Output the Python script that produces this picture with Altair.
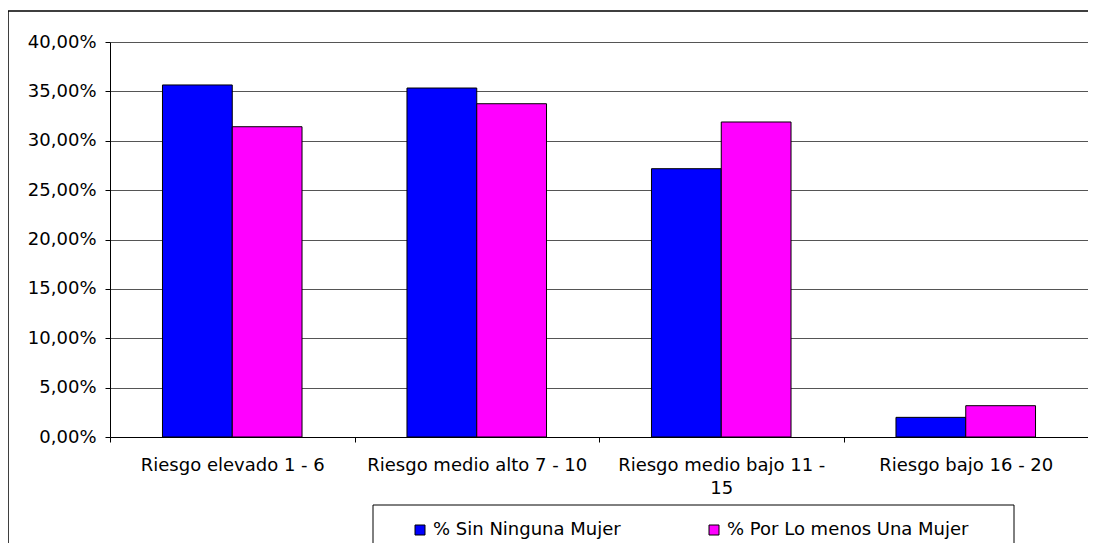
import altair as alt
import pandas as pd

categories = ["Riesgo elevado 1 - 6", "Riesgo medio alto 7 - 10",
              "Riesgo medio bajo 11 - 15", "Riesgo bajo 16 - 20"]
series = ["% Sin Ninguna Mujer", "% Por Lo menos Una Mujer"]
sin_ninguna = [0.3565, 0.3534, 0.2717, 0.0199]
por_lo_menos = [0.3142, 0.3375, 0.3190, 0.0317]
colors = ["#0000FF", "#FF00FF"]
y_ticks = [0.0, 0.05, 0.10, 0.15, 0.20, 0.25, 0.30, 0.35, 0.40]

rows = []
for c, a, b in zip(categories, sin_ninguna, por_lo_menos):
    rows.append({"cat": c, "serie": series[0], "val": a})
    rows.append({"cat": c, "serie": series[1], "val": b})
df = pd.DataFrame(rows)
one = pd.DataFrame({"k": [0]})

FONT = "DejaVu Sans"
FS = 18
W, H = 978, 395

frame = alt.Chart(one).mark_rect(fillOpacity=0, stroke="black", strokeWidth=1.5).encode(
    x=alt.value(-102), x2=alt.value(2000), y=alt.value(-31), y2=alt.value(1000)
)

bars = alt.Chart(df).mark_bar(stroke="black", strokeWidth=1).encode(
    x=alt.X("cat:N", sort=categories,
            scale=alt.Scale(paddingInner=0, paddingOuter=0),
            axis=alt.Axis(title=None, labelAngle=0, tickBand="extent", grid=False,
                          domainColor="black", tickColor="black", tickSize=5,
                          labelPadding=14, labelFont=FONT, labelFontSize=FS,
                          labelColor="black", labelLineHeight=23, labelLimit=300,
                          labelExpr="length(datum.label) > 24 ? [slice(datum.label, 0, 22), slice(datum.label, 23)] : datum.label")),
    xOffset=alt.XOffset("serie:N", sort=series,
                        scale=alt.Scale(paddingInner=0, paddingOuter=0.752)),
    y=alt.Y("val:Q", scale=alt.Scale(domain=[0, 0.4], nice=False),
            axis=alt.Axis(title=None, values=y_ticks, grid=True, gridColor="#555555",
                          gridWidth=1, domainColor="black", tickColor="black",
                          tickSize=5, labelPadding=9, labelFont=FONT, labelFontSize=FS,
                          labelColor="black",
                          labelExpr="replace(format(datum.value, '.2%'), '.', ',')")),
    color=alt.Color("serie:N", sort=series,
                    scale=alt.Scale(domain=series, range=colors),
                    legend=alt.Legend(title=None, orient="none", legendX=301, legendY=479,
                                      direction="horizontal", columns=2, columnPadding=84,
                                      symbolType="square", symbolSize=100,
                                      symbolStrokeColor="black", symbolStrokeWidth=1,
                                      labelFont=FONT, labelFontSize=FS, labelColor="black",
                                      labelOffset=4, padding=0, labelLimit=400)),
)

legend_box = alt.Chart(one).mark_rect(fill="white", stroke="black", strokeWidth=1).encode(
    x=alt.value(263), x2=alt.value(904), y=alt.value(463), y2=alt.value(700)
)

chart = alt.layer(frame, bars, legend_box).properties(
    width=W, height=H,
    autosize=alt.AutoSizeParams(type="none"),
    padding={"left": 102, "top": 34, "right": 0, "bottom": 106},
    background="white",
).configure_view(stroke=None)

chart.save("out.html", embed_options={"renderer": "svg", "actions": False})
